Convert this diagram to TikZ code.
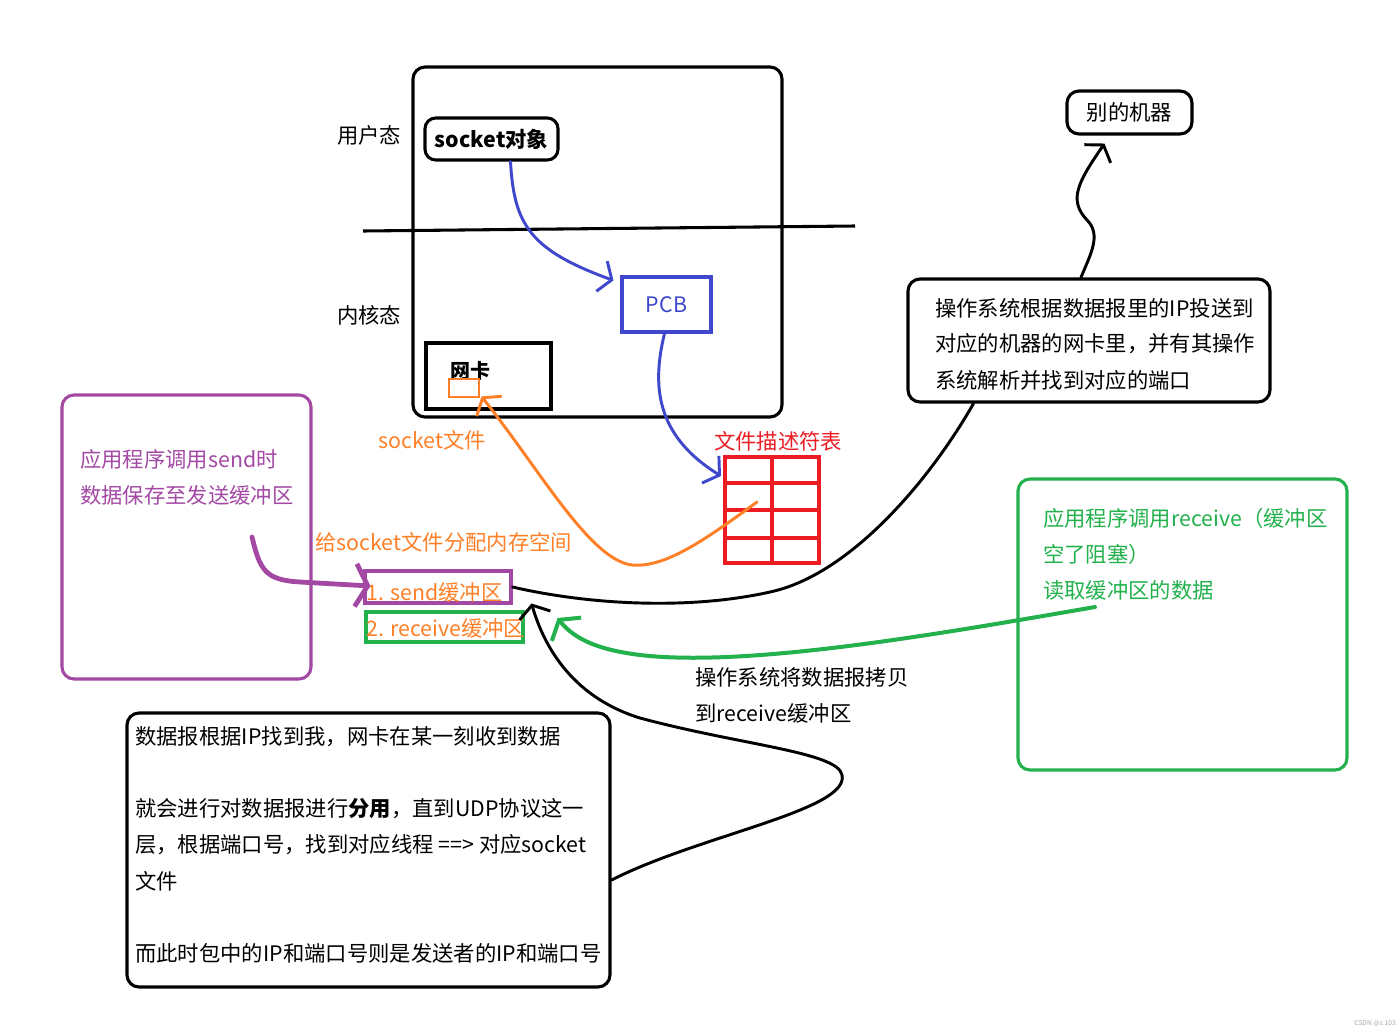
\documentclass[tikz,border=0pt]{standalone}
\usepackage{fontspec}
\setmainfont{Noto Sans CJK SC}
\usetikzlibrary{arrows.meta,calc}
\definecolor{cpurple}{HTML}{A349A4}
\definecolor{cgreen}{HTML}{22B14C}
\definecolor{corange}{HTML}{FF7F27}
\definecolor{cred}{HTML}{ED1C24}
\definecolor{cblue}{HTML}{3F48CC}
\begin{document}
\begin{tikzpicture}[x=0.75pt,y=-0.75pt,
  txt/.style={font=\fontsize{16}{19}\selectfont, inner sep=0pt},
  lt/.style={txt, anchor=west},
  box/.style={draw, line width=2.3pt, rounded corners=9pt, inner sep=0pt},
  sbox/.style={draw, line width=2.3pt, inner sep=0pt},
  barb/.style={-{Straight Barb[length=8pt,width=24pt]}},
  conn/.style={line width=2.2pt, line cap=round},
]
\useasboundingbox[fill=white] (0,0) rectangle (1400,1035);

% main frame
\node[box, minimum width=276.75pt, minimum height=262.5pt] (main) at (597.5,242) {};
\draw[line width=2.3pt] (363,231) -- (855,226);
\node[txt] (user) at (369,135) {用户态};
\node[txt] (kern) at (369,315) {内核态};

\node[box, rounded corners=8pt, minimum width=99.75pt, minimum height=31.5pt, font=\fontsize{16}{19}\selectfont\bfseries] (sock) at (491.5,139) {socket对象};
\node[sbox, draw=cblue, text=cblue, font=\fontsize{16}{19}\selectfont, minimum width=66.75pt, minimum height=41.25pt] (pcb) at (666.5,304.5) {PCB};
\node[sbox, minimum width=93.75pt, minimum height=49.5pt] (nic) at (488.5,376) {};
\node[txt, font=\fontsize{15}{18}\selectfont\bfseries] (nictxt) at (470,371) {网卡};
\node[draw=corange, line width=2.2pt, minimum width=22.5pt, minimum height=13.5pt, inner sep=0pt] (nicsm) at (464,388) {};

% fd table
\node[draw=cred, line width=3pt, minimum width=70.5pt, minimum height=79.5pt, inner sep=0pt] (grid) at (772,510) {};
\draw[cred, line width=3pt] (grid.north) -- (grid.south);
\foreach \f in {0.25,0.5,0.75}
  \draw[cred, line width=3pt] ($(grid.north west)!\f!(grid.south west)$) -- ($(grid.north east)!\f!(grid.south east)$);
\node[txt, text=cred] (fdt) at (778,441) {文件描述符表};
\node[txt, text=corange] (sfile) at (432,440) {socket文件};

% purple box
\node[box, draw=cpurple, minimum width=186.75pt, minimum height=213pt] (pbox) at (186.5,537) {};
\node[lt, text=cpurple] (p1) at (80,459) {应用程序调用send时};
\node[lt, text=cpurple] (p2) at (80,495) {数据保存至发送缓冲区};
\node[lt, text=corange] (alloc) at (315,542) {给socket文件分配内存空间};

% buffers
\node[sbox, draw=cpurple, minimum width=109.5pt, minimum height=24pt] (send) at (438,587) {};
\node[lt, text=corange] (sendt) at (366,592) {1. send缓冲区};
\node[sbox, draw=cgreen, minimum width=117.75pt, minimum height=22.5pt] (recv) at (444.5,627) {};
\node[lt, text=corange] (recvt) at (366,628) {2. receive缓冲区};

% right black box
\node[box, minimum width=271.5pt, minimum height=92.25pt] (rbox) at (1089,340.5) {};
\node[lt] (r1) at (935,308) {操作系统根据数据报里的IP投送到};
\node[lt] (r2) at (935,344) {对应的机器的网卡里，并有其操作};
\node[lt] (r3) at (935,380) {系统解析并找到对应的端口};

\node[box, minimum width=93.75pt, minimum height=32.25pt, font=\fontsize{16}{19}\selectfont] (other) at (1129.5,112.5) {别的机器};

% green box
\node[box, draw=cgreen, minimum width=246.75pt, minimum height=218.25pt] (gbox) at (1182.5,624.5) {};
\node[lt, text=cgreen] (g1) at (1043,518) {应用程序调用receive（缓冲区};
\node[lt, text=cgreen] (g2) at (1043,554) {空了阻塞）};
\node[lt, text=cgreen] (g3) at (1043,590) {读取缓冲区的数据};

\node[lt] (c1) at (695,677) {操作系统将数据报拷贝};
\node[lt] (c2) at (695,713) {到receive缓冲区};

% bottom box
\node[box, minimum width=362.25pt, minimum height=205.5pt] (bbox) at (368.5,850) {};
\node[lt] (b1) at (135,737) {数据报根据IP找到我，网卡在某一刻收到数据};
\node[lt] (b2) at (135,809) {就会进行对数据报进行\textbf{分用}，直到UDP协议这一};
\node[lt] (b3) at (135,845) {层，根据端口号，找到对应线程 ==> 对应socket};
\node[lt] (b4) at (135,881) {文件};
\node[lt] (b5) at (135,953) {而此时包中的IP和端口号则是发送者的IP和端口号};

\node[font=\fontsize{5}{6}\selectfont, text=black!35, anchor=east, inner sep=0pt] (wm) at (1396,1024) {CSDN @s:103};

% connectors
\draw[conn, cblue, barb] ($(sock.south)+(19,0)$) .. controls (514,225) and (530,250) .. ($(pcb.north west)+(-7,5)$);
\draw[conn, cblue, barb] ($(pcb.south)+(-2,0)$) .. controls (652,385) and (655,435) .. ($(grid.north west)+(-2,21)$);
\draw[conn, corange, barb] ($(grid.center)+(-15,-8)$) .. controls (705,540) and (665,568) .. (632,565) .. controls (590,560) and (540,470) .. ($(nicsm.south east)+(1,-2)$);
\coordinate (pstart) at (252,537);
\draw[line width=3.6pt, line cap=round, cpurple, -{Straight Barb[length=9pt,width=32pt]}] (pstart) .. controls (260,570) and (265,580) .. (300,582) -- ($(send.west)+(7,-1)$);
\draw[conn] (send.east) .. controls (590,605) and (690,610) .. (770,592) .. controls (850,575) and (930,480) .. ($(rbox.south west)+(67,0)$);
\draw[conn, barb] ($(rbox.north)+(-8,0)$) .. controls (1090,255) and (1102,235) .. (1087,220) .. controls (1068,200) and (1078,182) .. ($(other.south)+(-25,8)$);
\coordinate (gstart) at (1095,607);
\draw[line width=3pt, line cap=round, cgreen, -{Straight Barb[length=9pt,width=28pt]}] (gstart) .. controls (950,632) and (750,668) .. (640,655) .. controls (600,650) and (575,640) .. ($(recv.east)+(33,-9)$);
\draw[conn, barb] ($(bbox.east)+(0,30)$) .. controls (700,835) and (850,810) .. (842,775) .. controls (838,752) and (740,745) .. (640,718) .. controls (575,698) and (545,650) .. ($(recv.north east)+(7,-7)$);
\end{tikzpicture}
\end{document}
